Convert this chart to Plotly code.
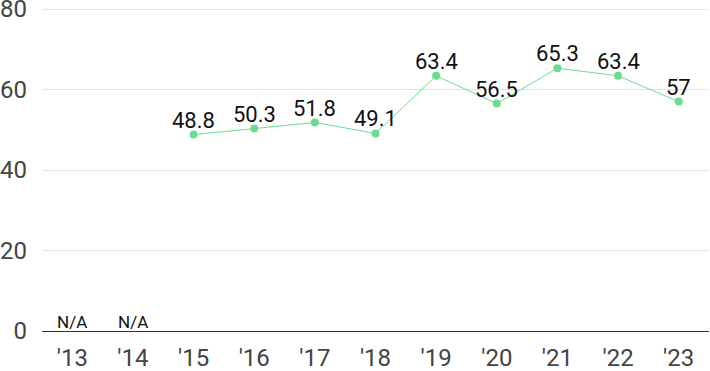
import plotly.graph_objects as go

years = ["'13", "'14", "'15", "'16", "'17", "'18", "'19", "'20", "'21", "'22", "'23"]
values = [None, None, 48.8, 50.3, 51.8, 49.1, 63.4, 56.5, 65.3, 63.4, 57]
labels = ["", "", "48.8", "50.3", "51.8", "49.1", "63.4", "56.5", "65.3", "63.4", "57"]
na_years = ["'13", "'14"]
na_labels = ["N/A", "N/A"]
y_ticks = [0, 20, 40, 60, 80]

fig = go.Figure()
fig.add_trace(go.Scatter(
    x=years, y=values, mode="lines+markers",
    line=dict(color="#6ddc8f", width=1),
    marker=dict(color="#6ddc8f", size=8),
    cliponaxis=False, showlegend=False, hoverinfo="skip",
))

for xv, yv, t in zip(years, values, labels):
    if yv is None:
        continue
    fig.add_annotation(
        x=xv, y=yv, text=t, showarrow=False, yanchor="bottom",
        yshift=0, font=dict(family="Roboto", size=22, color="#111"),
    )
for xv, t in zip(na_years, na_labels):
    fig.add_annotation(
        x=xv, y=0, text=t, showarrow=False, yanchor="bottom",
        yshift=-3, font=dict(family="Roboto", size=17, color="#111"),
    )

fig.update_layout(
    width=710, height=371,
    margin=dict(l=42, r=1, t=5, b=40, autoexpand=False),
    paper_bgcolor="white", plot_bgcolor="white",
    font=dict(family="Roboto"),
)
fig.update_xaxes(
    type="category", categoryorder="array", categoryarray=years,
    range=[-0.5, 10.5], showgrid=False, showline=False, ticks="",
    tickfont=dict(family="Roboto", size=24, color="#444"),
    automargin=False, ticklabelstandoff=10,
)
fig.update_yaxes(
    range=[0, 81], tickvals=y_ticks, showgrid=True,
    gridcolor="#e3e3e3", gridwidth=1, zeroline=True, zerolinecolor="#333",
    zerolinewidth=1, showline=False, ticks="",
    tickfont=dict(family="Roboto", size=24, color="#444"),
    ticklabelstandoff=14, automargin=False, ticklabeloverflow="allow",
)
fig.write_html("out.html", post_script="document.body.style.margin='0';",
               config={"displayModeBar": False})
